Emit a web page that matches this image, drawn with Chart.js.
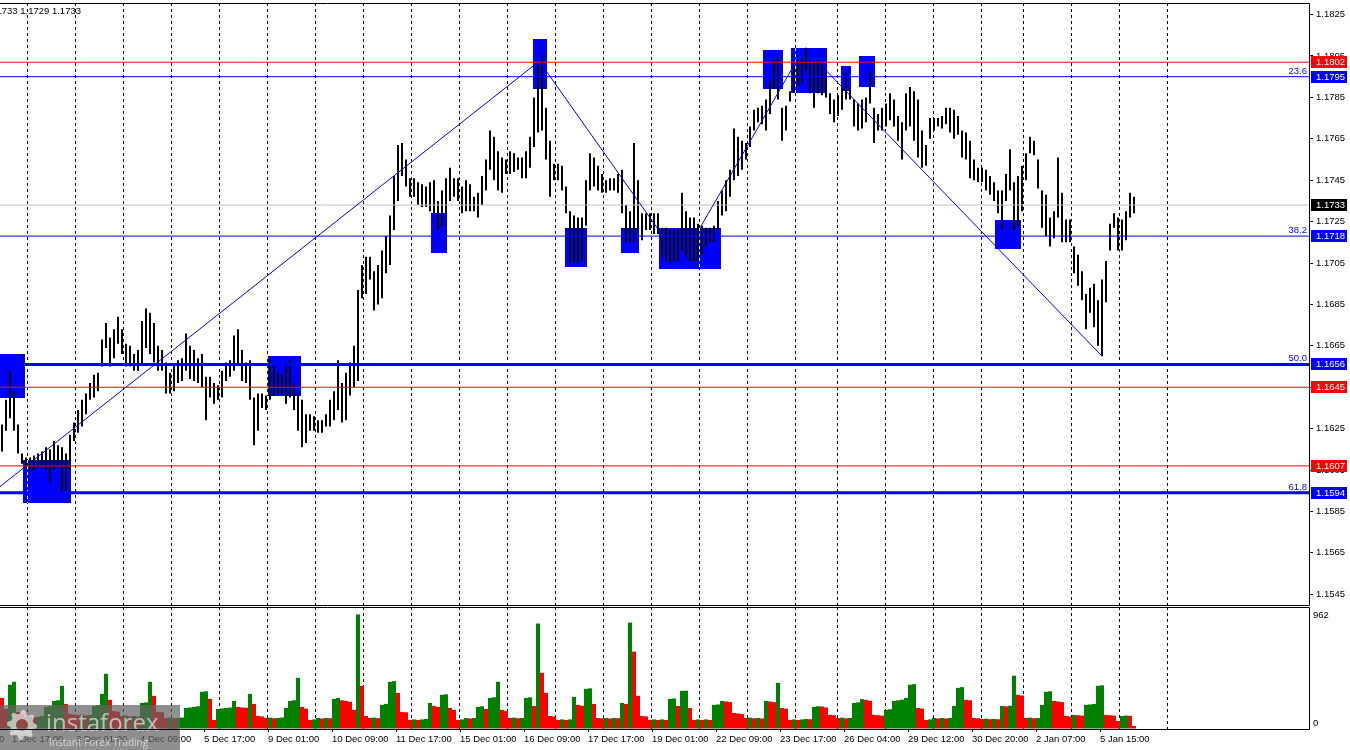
<!DOCTYPE html>
<html>
<head>
<meta charset="utf-8">
<title>EURUSD H1</title>
<script src="https://cdn.jsdelivr.net/npm/chart.js@4.4.1/dist/chart.umd.min.js"></script>
<style>
  html, body { margin: 0; padding: 0; background: #fff; }
  #wrap { position: relative; width: 1350px; height: 750px; overflow: hidden; }
  #price { position: absolute; left: 0; top: 0; }
  #volume { position: absolute; left: 0; top: 607px; }
</style>
</head>
<body>
<div id="wrap">
  <canvas id="price" width="1350" height="607"></canvas>
  <canvas id="volume" width="1350" height="143"></canvas>
</div>
<script>
// EURUSD, 28 Nov - 6 Jan. Every entry stands for two hourly bars.
const barHigh = [
  1.1627, 1.1639, 1.1653, 1.1643, 1.1627, 1.1613, 1.1611, 1.1611, 1.1612, 1.1613,
  1.1614, 1.1616, 1.1615, 1.1619, 1.1617, 1.1616, 1.1613, 1.1622, 1.1628, 1.1634,
  1.1639, 1.1642, 1.1647, 1.1651, 1.1652, 1.1668, 1.1676, 1.1669, 1.1673, 1.1679,
  1.1673, 1.1666, 1.1665, 1.1661, 1.1663, 1.1677, 1.1683, 1.1681, 1.1676, 1.1665,
  1.1663, 1.1657, 1.1652, 1.1656, 1.1658, 1.1659, 1.1671, 1.1665, 1.1663, 1.1659,
  1.1661, 1.1650, 1.1650, 1.1647, 1.1646, 1.1653, 1.1657, 1.1658, 1.1670, 1.1673,
  1.1663, 1.1657, 1.1658, 1.1640, 1.1642, 1.1642, 1.1641, 1.1659, 1.1656, 1.1652,
  1.1651, 1.1657, 1.1658, 1.1647, 1.1642, 1.1639, 1.1632, 1.1632, 1.1631, 1.1629,
  1.1629, 1.1632, 1.1639, 1.1643, 1.1658, 1.1647, 1.1652, 1.1657, 1.1665, 1.1692,
  1.1704, 1.1708, 1.1708, 1.1701, 1.1704, 1.1711, 1.1718, 1.1728, 1.1747, 1.1762,
  1.1763, 1.1755, 1.1746, 1.1746, 1.1744, 1.1743, 1.1742, 1.1744, 1.1745, 1.1735,
  1.1740, 1.1746, 1.1751, 1.1746, 1.1746, 1.1742, 1.1745, 1.1743, 1.1737, 1.1739,
  1.1747, 1.1755, 1.1769, 1.1766, 1.1759, 1.1756, 1.1755, 1.1759, 1.1758, 1.1756,
  1.1756, 1.1759, 1.1766, 1.1785, 1.1801, 1.1805, 1.1780, 1.1764, 1.1753, 1.1753,
  1.1752, 1.1742, 1.1730, 1.1728, 1.1727, 1.1727, 1.1745, 1.1758, 1.1756, 1.1752,
  1.1748, 1.1745, 1.1746, 1.1746, 1.1748, 1.1750, 1.1733, 1.1730, 1.1763, 1.1745,
  1.1729, 1.1729, 1.1729, 1.1729, 1.1729, 1.1722, 1.1722, 1.1721, 1.1721, 1.1721,
  1.1739, 1.1730, 1.1727, 1.1727, 1.1724, 1.1723, 1.1722, 1.1722, 1.1723, 1.1735,
  1.1740, 1.1745, 1.1750, 1.1770, 1.1766, 1.1764, 1.1763, 1.1771, 1.1779, 1.1780,
  1.1781, 1.1784, 1.1793, 1.1803, 1.1804, 1.1780, 1.1781, 1.1788, 1.1800, 1.1803,
  1.1804, 1.1809, 1.1803, 1.1802, 1.1803, 1.1801, 1.1797, 1.1787, 1.1784, 1.1786,
  1.1791, 1.1797, 1.1789, 1.1784, 1.1782, 1.1784, 1.1785, 1.1797, 1.1780, 1.1777,
  1.1780, 1.1782, 1.1787, 1.1784, 1.1776, 1.1773, 1.1787, 1.1790, 1.1788, 1.1784,
  1.1769, 1.1762, 1.1775, 1.1775, 1.1775, 1.1776, 1.1780, 1.1780, 1.1779, 1.1776,
  1.1769, 1.1768, 1.1764, 1.1755, 1.1751, 1.1751, 1.1750, 1.1747, 1.1744, 1.1740,
  1.1740, 1.1748, 1.1760, 1.1744, 1.1747, 1.1752, 1.1758, 1.1766, 1.1764, 1.1755,
  1.1740, 1.1738, 1.1727, 1.1730, 1.1756, 1.1739, 1.1726, 1.1726, 1.1713, 1.1709,
  1.1701, 1.1690, 1.1693, 1.1695, 1.1687, 1.1697, 1.1706, 1.1724, 1.1729, 1.1727,
  1.1726, 1.1730, 1.1739, 1.1737
];
const barLow = [
  1.1614, 1.1624, 1.1630, 1.1624, 1.1613, 1.1608, 1.1606, 1.1604, 1.1605, 1.1606,
  1.1607, 1.1605, 1.1599, 1.1605, 1.1607, 1.1594, 1.1594, 1.1605, 1.1619, 1.1623,
  1.1626, 1.1632, 1.1639, 1.1640, 1.1643, 1.1655, 1.1664, 1.1655, 1.1659, 1.1666,
  1.1661, 1.1655, 1.1655, 1.1653, 1.1653, 1.1656, 1.1664, 1.1661, 1.1657, 1.1653,
  1.1653, 1.1642, 1.1642, 1.1643, 1.1647, 1.1648, 1.1653, 1.1649, 1.1648, 1.1647,
  1.1645, 1.1629, 1.1640, 1.1637, 1.1639, 1.1640, 1.1648, 1.1650, 1.1653, 1.1656,
  1.1648, 1.1647, 1.1639, 1.1617, 1.1624, 1.1635, 1.1634, 1.1639, 1.1641, 1.1642,
  1.1642, 1.1637, 1.1640, 1.1634, 1.1624, 1.1616, 1.1618, 1.1624, 1.1624, 1.1623,
  1.1623, 1.1626, 1.1626, 1.1629, 1.1634, 1.1628, 1.1629, 1.1641, 1.1645, 1.1648,
  1.1688, 1.1690, 1.1697, 1.1682, 1.1685, 1.1688, 1.1700, 1.1704, 1.1721, 1.1735,
  1.1747, 1.1742, 1.1737, 1.1737, 1.1733, 1.1732, 1.1732, 1.1730, 1.1729, 1.1721,
  1.1723, 1.1729, 1.1735, 1.1737, 1.1735, 1.1729, 1.1730, 1.1730, 1.1730, 1.1727,
  1.1733, 1.1740, 1.1750, 1.1745, 1.1740, 1.1739, 1.1748, 1.1748, 1.1749, 1.1750,
  1.1746, 1.1746, 1.1751, 1.1761, 1.1768, 1.1769, 1.1755, 1.1737, 1.1745, 1.1745,
  1.1740, 1.1729, 1.1705, 1.1705, 1.1705, 1.1706, 1.1723, 1.1740, 1.1742, 1.1740,
  1.1739, 1.1739, 1.1740, 1.1740, 1.1739, 1.1729, 1.1715, 1.1715, 1.1715, 1.1721,
  1.1716, 1.1721, 1.1721, 1.1719, 1.1719, 1.1708, 1.1706, 1.1705, 1.1706, 1.1706,
  1.1711, 1.1708, 1.1706, 1.1706, 1.1706, 1.1709, 1.1713, 1.1715, 1.1715, 1.1721,
  1.1728, 1.1730, 1.1737, 1.1745, 1.1747, 1.1750, 1.1755, 1.1761, 1.1769, 1.1773,
  1.1772, 1.1769, 1.1777, 1.1789, 1.1784, 1.1764, 1.1769, 1.1783, 1.1788, 1.1791,
  1.1792, 1.1798, 1.1787, 1.1780, 1.1787, 1.1786, 1.1785, 1.1777, 1.1773, 1.1776,
  1.1779, 1.1784, 1.1784, 1.1771, 1.1769, 1.1770, 1.1773, 1.1782, 1.1763, 1.1769,
  1.1769, 1.1771, 1.1774, 1.1771, 1.1764, 1.1755, 1.1769, 1.1771, 1.1764, 1.1756,
  1.1751, 1.1752, 1.1765, 1.1769, 1.1771, 1.1770, 1.1772, 1.1768, 1.1765, 1.1767,
  1.1756, 1.1755, 1.1746, 1.1745, 1.1744, 1.1744, 1.1740, 1.1738, 1.1735, 1.1729,
  1.1721, 1.1735, 1.1740, 1.1721, 1.1723, 1.1730, 1.1745, 1.1758, 1.1757, 1.1741,
  1.1722, 1.1718, 1.1713, 1.1717, 1.1727, 1.1715, 1.1715, 1.1715, 1.1700, 1.1694,
  1.1687, 1.1673, 1.1681, 1.1674, 1.1665, 1.1660, 1.1686, 1.1711, 1.1722, 1.1711,
  1.1711, 1.1716, 1.1727, 1.1729
];
const volumes = [
  260, 168, 370, 395, 143, 126, 101, 105, 98, 101,
  109, 185, 190, 235, 240, 361, 210, 126, 122, 118,
  120, 115, 118, 193, 200, 294, 462, 244, 151, 145,
  109, 112, 105, 109, 104, 218, 222, 395, 277, 143,
  140, 92, 95, 90, 92, 96, 176, 180, 185, 190,
  311, 315, 252, 76, 168, 172, 176, 180, 235, 185,
  180, 178, 294, 210, 109, 105, 92, 95, 90, 92,
  96, 176, 235, 240, 428, 185, 170, 76, 80, 92,
  88, 92, 90, 252, 260, 240, 235, 228, 160, 958,
  361, 109, 92, 95, 90, 202, 210, 395, 400, 302,
  143, 140, 76, 80, 76, 80, 84, 218, 193, 185,
  286, 290, 176, 160, 76, 80, 92, 88, 92, 185,
  190, 168, 260, 265, 395, 160, 150, 92, 95, 90,
  92, 260, 265, 193, 882, 470, 302, 109, 105, 76,
  80, 76, 80, 269, 202, 195, 336, 340, 210, 92,
  90, 92, 88, 92, 90, 218, 210, 890, 647, 277,
  109, 105, 76, 80, 76, 80, 76, 252, 255, 193,
  319, 320, 176, 76, 80, 76, 80, 76, 202, 205,
  235, 230, 225, 134, 130, 125, 92, 95, 90, 92,
  88, 235, 230, 225, 386, 176, 170, 76, 80, 76,
  80, 84, 82, 185, 190, 188, 180, 118, 115, 92,
  95, 90, 92, 218, 222, 250, 244, 236, 118, 115,
  112, 160, 165, 235, 240, 245, 260, 370, 375, 176,
  170, 76, 80, 92, 88, 92, 88, 92, 193, 344,
  350, 244, 240, 92, 90, 84, 86, 82, 84, 82,
  193, 190, 195, 445, 286, 280, 92, 95, 90, 92,
  202, 311, 315, 235, 230, 225, 109, 105, 118, 115,
  112, 202, 205, 210, 361, 365, 118, 115, 112, 67,
  109, 112, 110, 25
];

const priceTicks = [1.1545, 1.1565, 1.1585, 1.1605, 1.1625, 1.1645, 1.1665, 1.1685,
  1.1705, 1.1725, 1.1745, 1.1765, 1.1785, 1.1805, 1.1825];
// hours counted from the left edge of the chart
const timeTickHours = [-26, 6, 38, 70, 102, 134, 166, 198, 230, 262, 294, 326, 358,
  390, 422, 454, 486, 518, 550];
const timeTickLabels = ["28 Nov 09:00", "1 Dec 17:00", "3 Dec 01:00", "4 Dec 09:00",
  "5 Dec 17:00", "9 Dec 01:00", "10 Dec 09:00", "11 Dec 17:00", "15 Dec 01:00",
  "16 Dec 09:00", "17 Dec 17:00", "19 Dec 01:00", "22 Dec 09:00", "23 Dec 17:00",
  "26 Dec 04:00", "29 Dec 12:00", "30 Dec 20:00", "2 Jan 07:00", "5 Jan 15:00"];
const dayStartHours = [13.5, 37.5, 61.5, 85.5, 109.5, 133.5, 157.5, 181.5, 205.5, 229.5,
  253.5, 277.5, 301.5, 325.5, 349.5, 373.5, 397.5, 418.5, 442.5, 466.5, 490.5, 511.5,
  535.5, 559.5, 583.5];

const levelPrices = [1.1802, 1.1795, 1.1733, 1.1718, 1.1656, 1.1645, 1.1607, 1.1594];
const fibPrices = [1.1795, 1.1718, 1.1656, 1.1594];
const fibNames = ["23.6", "38.2", "50.0", "61.8"];

const boxFrom = [0, 11.5, 133.5, 215.5, 266.5, 282.5, 310.5, 329.5, 381.5, 395.5, 420.5, 429.5, 497.5];
const boxTo = [12.5, 35.5, 150.5, 223.5, 273.5, 293.5, 319.5, 360.5, 391.5, 413.5, 425.5, 437.5, 510.5];
const boxHigh = [1.1661, 1.1610, 1.1660, 1.1729, 1.1813, 1.1722, 1.1722, 1.1722, 1.1808, 1.1809, 1.1800, 1.1805, 1.1726];
const boxLow = [1.1640, 1.1589, 1.1641, 1.1710, 1.1789, 1.1703, 1.1710, 1.1702, 1.1789, 1.1787, 1.1788, 1.1790, 1.1712];

const trendHours = [[0, 269], [270, 330], [350, 398.5], [411, 551]];
const trendPrices = [[1.1597, 1.1802], [1.1802, 1.1720], [1.1722, 1.1803], [1.1800, 1.1660]];

// styles
const levelColor = ["#ff0000", "#0000ff", "#c0c0c0", "#0000ff", "#0000ff", "#ff0000", "#ff0000", "#0000ff"];
const levelWidth = [1, 1, 1, 1, 3, 1, 1, 3];
const tagColor = ["#ff0000", "#0000ff", "#000000", "#0000ff", "#0000ff", "#ff0000", "#ff0000", "#0000ff"];

const HOURS = 654.5; // visible hours across the plot
const FONT = "'Liberation Sans', Arial, sans-serif";

Chart.defaults.font.family = FONT;
Chart.defaults.font.size = 9.5;
Chart.defaults.color = "#000";

function noPadding(ax) {
  ax.paddingLeft = 0;
  ax.paddingRight = 0;
  ax.paddingTop = 0;
  ax.paddingBottom = 0;
}

// dashed day separators, shared by both panes
function dayGridScale() {
  return {
    type: "linear", position: "bottom", min: 0, max: HOURS, offset: false,
    ticks: { display: false },
    grid: { color: "#000", lineWidth: 1, drawTicks: false, offset: false },
    border: { display: false, dash: [3, 3] },
    afterBuildTicks: (ax) => { ax.ticks = dayStartHours.map((v) => ({ value: v })); },
    afterFit: (ax) => { ax.height = 0; noPadding(ax); }
  };
}

const framePlugin = {
  id: "frame",
  afterDraw(chart) {
    const { ctx, chartArea: a } = chart;
    ctx.save();
    ctx.strokeStyle = "#000";
    ctx.lineWidth = 1;
    ctx.setLineDash([]);
    ctx.beginPath();
    ctx.moveTo(0, a.top + 0.5);
    ctx.lineTo(a.right + 0.5, a.top + 0.5);
    ctx.lineTo(a.right + 0.5, a.bottom + 0.5);
    ctx.lineTo(0, a.bottom + 0.5);
    ctx.stroke();
    ctx.restore();
  }
};

// blue zones behind the bars
const boxPlugin = {
  id: "boxes",
  beforeDatasetsDraw(chart) {
    const { ctx, chartArea: a, scales } = chart;
    const xs = scales.x;
    const ys = scales.y;
    ctx.save();
    ctx.beginPath();
    ctx.rect(a.left, a.top, a.right - a.left, a.bottom - a.top);
    ctx.clip();
    for (let k = 0; k < boxFrom.length; k++) {
      const x1 = Math.round(xs.getPixelForValue(boxFrom[k]));
      const x2 = Math.round(xs.getPixelForValue(boxTo[k]));
      const y1 = Math.round(ys.getPixelForValue(boxHigh[k]));
      const y2 = Math.round(ys.getPixelForValue(boxLow[k]));
      ctx.fillStyle = "#0000ff";
      ctx.fillRect(x1, y1, x2 - x1, y2 - y1);
      ctx.strokeStyle = "#ffff00";
      ctx.setLineDash([3, 3]);
      dayStartHours.forEach((h) => {
        const gx = Math.round(xs.getPixelForValue(h)) + 0.5;
        if (gx > x1 && gx < x2) {
          ctx.beginPath();
          ctx.moveTo(gx, y1);
          ctx.lineTo(gx, y2);
          ctx.stroke();
        }
      });
    }
    ctx.restore();
  }
};

// price tags on the axis, fibo names and the OHLC header
const tagPlugin = {
  id: "tags",
  afterDraw(chart) {
    const { ctx, chartArea: a, scales } = chart;
    const ys = scales.y;
    ctx.save();
    ctx.font = "9.5px " + FONT;
    ctx.textBaseline = "middle";
    levelPrices.forEach((p, k) => {
      const y = Math.round(ys.getPixelForValue(p));
      ctx.fillStyle = tagColor[k];
      ctx.fillRect(a.right + 2, y - 6, 36, 12);
      ctx.fillStyle = "#fff";
      ctx.textAlign = "left";
      ctx.fillText(p.toFixed(4), a.right + 7, y + 0.5);
    });
    ctx.fillStyle = "#0000ff";
    ctx.textAlign = "right";
    ctx.textBaseline = "bottom";
    fibPrices.forEach((p, k) => {
      ctx.fillText(fibNames[k], a.right - 2, ys.getPixelForValue(p) - 1);
    });
    ctx.fillStyle = "#000";
    ctx.textBaseline = "middle";
    ctx.fillText("EURUSD,H1  1.1731 1.1733 1.1729 1.1733", 81, 11);
    ctx.restore();
  }
};

const priceData = barHigh.map((h, i) => ({ x: 2 * i + 1, y: [barLow[i], h] }));

const datasets = [{
  type: "bar",
  data: priceData,
  backgroundColor: "#000",
  barThickness: 2,
  inflateAmount: 0,
  borderWidth: 0,
  xAxisID: "x",
  yAxisID: "y",
  order: 3
}];

levelPrices.forEach((p, k) => {
  datasets.push({
    type: "line",
    data: [{ x: 0, y: p }, { x: HOURS, y: p }],
    borderColor: levelColor[k],
    borderWidth: levelWidth[k],
    pointRadius: 0,
    xAxisID: "x",
    yAxisID: "y",
    order: k === 2 ? 2 : 1
  });
});

trendHours.forEach((hrs, k) => {
  datasets.push({
    type: "line",
    data: [{ x: hrs[0], y: trendPrices[k][0] }, { x: hrs[1], y: trendPrices[k][1] }],
    borderColor: "#0000ff",
    borderWidth: 1,
    pointRadius: 0,
    xAxisID: "x",
    yAxisID: "y",
    order: 1
  });
});

window.priceChart = new Chart(document.getElementById("price"), {
  type: "bar",
  data: { datasets: datasets },
  options: {
    responsive: false,
    animation: false,
    events: [],
    layout: { padding: { top: 3, bottom: 2, left: 0, right: 0 } },
    plugins: { legend: { display: false }, tooltip: { enabled: false } },
    scales: {
      x: { type: "linear", min: 0, max: HOURS, offset: false, display: false, grid: { offset: false } },
      xg: dayGridScale(),
      y: {
        position: "right",
        min: 1.15398,
        max: 1.18306,
        beginAtZero: false,
        ticks: { padding: 3, callback: (v) => Number(v).toFixed(4) },
        grid: { drawOnChartArea: false, tickLength: 4, color: "#000" },
        border: { display: false },
        afterBuildTicks: (ax) => { ax.ticks = priceTicks.map((v) => ({ value: v })); },
        afterFit: (ax) => { ax.width = 41; noPadding(ax); }
      }
    }
  },
  plugins: [boxPlugin, tagPlugin, framePlugin]
});

// volume pane: green when the volume grows, red when it falls
const volColors = volumes.map((v, i) => (i > 0 && v > volumes[i - 1] ? "#008000" : "#ff0000"));

const volumePlugin = {
  id: "volumeExtras",
  afterDraw(chart) {
    const { ctx, chartArea: a, scales } = chart;
    const vy = scales.y;
    ctx.save();
    ctx.fillStyle = "#000";
    ctx.font = "9.5px " + FONT;
    ctx.textAlign = "left";
    ctx.textBaseline = "middle";
    ctx.fillText("962", a.right + 4, vy.getPixelForValue(962) + 1);
    ctx.fillText("0", a.right + 4, vy.getPixelForValue(0) - 6);

    // watermark
    ctx.fillStyle = "rgba(100,100,100,0.72)";
    ctx.fillRect(0, 98, 180, 45);
    ctx.fillStyle = "rgba(255,255,255,0.6)";
    ctx.beginPath();
    const cx = 22, cy = 118;
    for (let t = 0; t < 32; t++) {
      const ang = (t / 32) * Math.PI * 2;
      const r = (t % 4 < 2) ? 15 : 11.5;
      const px = cx + r * Math.cos(ang);
      const py = cy + r * Math.sin(ang);
      if (t === 0) ctx.moveTo(px, py); else ctx.lineTo(px, py);
    }
    ctx.closePath();
    ctx.moveTo(cx + 6, cy);
    ctx.arc(cx, cy, 6, 0, Math.PI * 2, true);
    ctx.fill("evenodd");
    ctx.font = "24px 'Open Sans', sans-serif";
    ctx.textBaseline = "alphabetic";
    ctx.fillText("instaforex", 46, 124);
    ctx.font = "10px 'Open Sans', sans-serif";
    ctx.fillText("Instant Forex Trading", 49, 139);
    ctx.restore();
  }
};

window.volumeChart = new Chart(document.getElementById("volume"), {
  type: "bar",
  data: {
    datasets: [{
      data: volumes.map((v, i) => ({ x: 2 * i + 1, y: v })),
      backgroundColor: volColors,
      barThickness: 4,
      inflateAmount: 0,
      borderWidth: 0
    }]
  },
  options: {
    responsive: false,
    animation: false,
    events: [],
    layout: { padding: 0 },
    plugins: { legend: { display: false }, tooltip: { enabled: false } },
    scales: {
      x: {
        type: "linear", position: "bottom", min: 0, max: HOURS, offset: false,
        ticks: {
          align: "start", autoSkip: false, maxRotation: 0, minRotation: 0, padding: 2,
          callback: (v) => timeTickLabels[timeTickHours.indexOf(v)] || ""
        },
        grid: { drawOnChartArea: false, tickLength: 3, color: "#000", offset: false },
        border: { display: false },
        afterBuildTicks: (ax) => { ax.ticks = timeTickHours.map((v) => ({ value: v })); },
        afterFit: (ax) => { ax.height = 21; noPadding(ax); }
      },
      xg: dayGridScale(),
      y: {
        position: "right", min: 0, max: 1020, beginAtZero: true,
        ticks: { display: false },
        grid: { drawOnChartArea: false, drawTicks: false },
        border: { display: false },
        afterFit: (ax) => { ax.width = 41; noPadding(ax); }
      }
    }
  },
  plugins: [volumePlugin, framePlugin]
});
</script>
</body>
</html>
